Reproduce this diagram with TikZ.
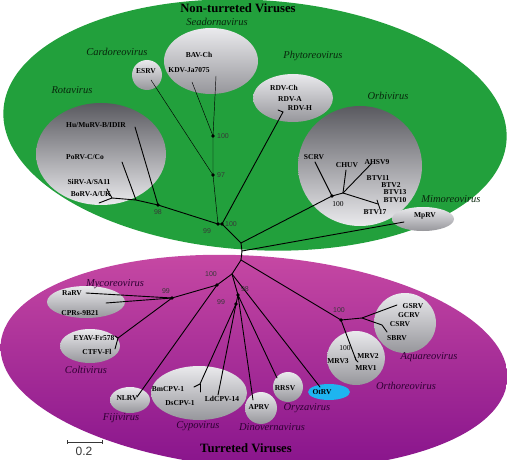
\documentclass[tikz,border=0pt]{standalone}
\usepackage{fontspec}
\setmainfont{Liberation Serif}
\newfontfamily\supfont{Liberation Sans}
\usetikzlibrary{positioning}
\definecolor{ntgreen}{RGB}{34,160,60}
\definecolor{tmagtop}{RGB}{200,74,164}
\definecolor{tmagbot}{RGB}{136,20,140}
\definecolor{cdark}{RGB}{90,90,96}
\definecolor{clight}{RGB}{234,234,237}
\definecolor{cmid}{RGB}{150,150,155}
\definecolor{otcyan}{RGB}{30,180,240}
\definecolor{ntlab}{RGB}{8,38,12}
\definecolor{tlab}{RGB}{45,0,50}
\definecolor{supgray}{RGB}{55,55,55}

\begin{document}
\begin{tikzpicture}[x=1pt,y=1pt]
\tikzstyle{every node}+=[inner sep=0pt]
\tikzstyle{isolate}=[font=\fontsize{7.5}{8}\selectfont\bfseries]
\tikzstyle{genusnt}=[font=\fontsize{10.5}{12}\selectfont\itshape, text=ntlab]
\tikzstyle{genust}=[genusnt, text=tlab]
\tikzstyle{title}=[font=\fontsize{12.7}{14}\selectfont\bfseries]
\tikzstyle{support}=[font=\supfont\fontsize{7}{8}\selectfont, text=supgray]
\tikzstyle{supserif}=[font=\fontsize{7.5}{8}\selectfont, text=black]
\tikzstyle{branch}=[line width=0.9pt, line cap=round]
\tikzstyle{thinbranch}=[line width=0.45pt]
\tikzstyle{grpdark}=[top color=cdark, bottom color=clight]
\tikzstyle{grplight}=[top color=clight, bottom color=cmid]
\useasboundingbox (0,0) rectangle (507,-460);
% the two big groups
\begin{scope}
\clip (0,0) rectangle (507,-460);
\fill [ntgreen, rotate around={-3.4:(255,-125)}] (255,-125) ellipse [x radius=252pt, y radius=125pt];
\shade [top color=tmagtop, bottom color=tmagbot, rotate around={-4:(254,-362)}] (254,-362) ellipse [x radius=254pt, y radius=106pt];
\end{scope}
\node [title] (ntitle) at (238,-8) {Non-turreted Viruses};
\node [title] (ttitle) at (246,-448) {Turreted Viruses};
% genus areas
\shade [grpdark] (101,-154) ellipse [x radius=65pt, y radius=51pt];
\shade [grplight] (211,-61) ellipse [x radius=47pt, y radius=33pt];
\shade [grplight] (147,-75) circle [radius=15pt];
\shade [grplight] (293,-98) ellipse [x radius=40pt, y radius=24pt];
\shade [grpdark] (360,-166) ellipse [x radius=62pt, y radius=60pt];
\shade [grplight] (423,-219) ellipse [x radius=31pt, y radius=12pt];
\shade [grplight] (86,-302) ellipse [x radius=39pt, y radius=16pt];
\shade [grplight] (90,-346) ellipse [x radius=30pt, y radius=17pt];
\shade [grplight] (130,-400) ellipse [x radius=20pt, y radius=13pt];
\shade [grplight] (199,-393) ellipse [x radius=48pt, y radius=27pt];
\shade [grplight] (261,-408) circle [radius=16pt];
\shade [grplight] (288,-387) circle [radius=15pt];
\fill [otcyan] (329,-392) ellipse [x radius=21pt, y radius=8pt];
\shade [grplight] (356,-358) ellipse [x radius=29pt, y radius=27pt];
\shade [grplight] (405,-323) ellipse [x radius=31pt, y radius=30pt];
% genus names
\node [genusnt] (seadorna) at (217,-22) {Seadornavirus};
\node [genusnt] (cardoreo) at (117,-52) {Cardoreovirus};
\node [genusnt] (phytoreo) at (313,-56) {Phytoreovirus};
\node [genusnt] (rotavir) at (72,-90) {Rotavirus};
\node [genusnt] (orbivir) at (388,-96) {Orbivirus};
\node [genusnt] (mimoreo) at (451,-199) {Mimoreovirus};
\node [genust] (mycoreo) at (115,-284) {Mycoreovirus};
\node [genust] (coltivir) at (86,-370) {Coltivirus};
\node [genust] (fijivir) at (121,-418) {Fijivirus};
\node [genust] (cypovir) at (198,-426) {Cypovirus};
\node [genust] (dinoverna) at (272,-427) {Dinovernavirus};
\node [genust] (oryzavir) at (307,-408) {Oryzavirus};
\node [genust] (orthoreo) at (406,-386) {Orthoreovirus};
\node [genust] (aquareo) at (429,-357) {Aquareovirus};
% isolates
\node [isolate] (bavch) at (199,-55) {BAV-Ch};
\node [isolate] (kdv) at (189,-70) {KDV-Ja7075};
\node [isolate] (esrv) at (146,-71) {ESRV};
\node [isolate] (humurv) at (96,-125) {Hu/MuRV-B/IDIR};
\node [isolate] (porv) at (85,-157) {PoRV-C/Co};
\node [isolate] (sirv) at (89,-182) {SiRV-A/SA11};
\node [isolate] (borv) at (91,-194) {BoRV-A/UK};
\node [isolate] (rdvch) at (284,-88) {RDV-Ch};
\node [isolate] (rdva) at (290,-99) {RDV-A};
\node [isolate] (rdvh) at (300,-108) {RDV-H};
\node [isolate] (scrv) at (314,-157) {SCRV};
\node [isolate] (chuv) at (347,-165) {CHUV};
\node [isolate] (ahsv) at (377,-162) {AHSV9};
\node [isolate] (btv11) at (378,-178) {BTV11};
\node [isolate] (btv2) at (391,-185) {BTV2};
\node [isolate] (btv13) at (395,-192) {BTV13};
\node [isolate] (btv10) at (395,-200) {BTV10};
\node [isolate] (btv17) at (375,-212) {BTV17};
\node [isolate] (mprv) at (425,-216) {MpRV};
\node [isolate] (rarv) at (72,-293) {RaRV};
\node [isolate] (cprs) at (80,-313) {CPRs-9B21};
\node [isolate] (eyav) at (94,-338) {EYAV-Fr578};
\node [isolate] (ctfv) at (97,-352) {CTFV-Fl};
\node [isolate] (nlrv) at (127,-398) {NLRV};
\node [isolate] (bmcpv) at (168,-389) {BmCPV-1};
\node [isolate] (dscpv) at (180,-403) {DsCPV-1};
\node [isolate] (ldcpv) at (222,-399) {LdCPV-14};
\node [isolate] (aprv) at (259,-407) {APRV};
\node [isolate] (rrsv) at (285,-388) {RRSV};
\node [isolate] (otrv) at (322,-392) {OtRV};
\node [isolate] (mrv3) at (338,-361) {MRV3};
\node [isolate] (mrv2) at (368,-356) {MRV2};
\node [isolate] (mrv1) at (366,-368) {MRV1};
\node [isolate] (gsrv) at (413,-306) {GSRV};
\node [isolate] (gcrv) at (409,-315) {GCRV};
\node [isolate] (csrv) at (400,-324) {CSRV};
\node [isolate] (sbrv) at (397,-338) {SBRV};
% tree: inner points
\coordinate (n99) at (218,-224);
\coordinate (n100) at (222,-224);
\coordinate (j1) at (241,-243);
\coordinate (j2) at (242,-251);
\coordinate (j3) at (241,-260);
\coordinate (rota) at (158,-205);
\coordinate (rjA) at (136,-200);
\coordinate (rjB) at (112,-198);
\coordinate (n97) at (213,-175);
\coordinate (sea) at (213,-136);
\coordinate (rdvj) at (283,-112);
\coordinate (orbi) at (332,-196);
\coordinate (oj) at (343,-193);
\coordinate (btvj) at (378,-204);
\coordinate (j4) at (232,-274);
\coordinate (t100) at (217,-285);
\coordinate (myco) at (172,-298);
\coordinate (colj) at (118,-338);
\coordinate (t98) at (238,-295);
\coordinate (t99) at (236,-304);
\coordinate (bmj) at (200,-384);
\coordinate (ao) at (341,-320);
\coordinate (aqj) at (362,-318);
\coordinate (aqk) at (382,-325);
\coordinate (orj) at (356,-360);
% tree: tips
\coordinate (huend) at (135,-127);
\coordinate (poend) at (122,-162);
\coordinate (siend) at (107,-189);
\coordinate (boend) at (99,-203);
\coordinate (esend) at (151,-80);
\coordinate (kdend) at (192,-82);
\coordinate (bavend) at (216,-76);
\coordinate (rdvend) at (278,-110);
\coordinate (scend) at (315,-162);
\coordinate (chend) at (346,-170);
\coordinate (ahend) at (372,-163);
\coordinate (btvA) at (377,-200);
\coordinate (btvB) at (380,-209);
\coordinate (mpend) at (404,-222);
\coordinate (raend) at (86,-293);
\coordinate (cpend) at (106,-303);
\coordinate (eyend) at (115,-336);
\coordinate (ctend) at (115,-349);
\coordinate (nlend) at (137,-397);
\coordinate (bmend) at (194,-387);
\coordinate (dsend) at (200,-392);
\coordinate (ldend) at (218,-395);
\coordinate (apend) at (253,-400);
\coordinate (rrend) at (277,-378);
\coordinate (otend) at (320,-387);
\coordinate (gsend) at (397,-305);
\coordinate (sbend) at (387,-332);
\coordinate (mrvA) at (355,-357);
\coordinate (mrvB) at (358,-362);
% branches
\draw [branch] (n99) -- (rota) -- (rjA) -- (rjB) -- (boend);
\draw [branch] (rjB) -- (siend);
\draw [branch] (rjA) -- (poend);
\draw [branch] (rota) -- (huend);
\draw [thinbranch] (n99) -- (n97) -- (sea) -- (kdend);
\draw [thinbranch] (sea) -- (bavend);
\draw [thinbranch] (n97) -- (esend);
\draw [branch] (n99) -- (n100) -- (rdvj) -- (rdvend);
\draw [branch] (n100) -- (j1) -- (orbi) -- (scend);
\draw [branch] (orbi) -- (oj) -- (chend);
\draw [branch] (oj) -- (ahend);
\draw [branch] (oj) -- (btvj);
\draw [branch] (btvA) -- (btvB);
\draw [branch] (j1) -- (j2) -- (mpend);
\draw [branch] (j2) -- (j3) -- (j4) -- (t100) -- (myco) -- (raend);
\draw [branch] (myco) -- (cpend);
\draw [branch] (myco) -- (colj) -- (eyend);
\draw [branch] (colj) -- (ctend);
\draw [branch] (t100) -- (nlend);
\draw [branch] (j4) -- (t98) -- (t99) -- (bmj) -- (bmend);
\draw [branch] (bmj) -- (dsend);
\draw [branch] (t99) -- (ldend);
\draw [branch] (t98) -- (apend);
\draw [branch] (t98) -- (rrend);
\draw [branch] (j4) -- (otend);
\draw [branch] (j3) -- (ao) -- (aqj) -- (gsend);
\draw [branch] (aqj) -- (aqk) -- (sbend);
\draw [branch] (ao) -- (orj);
\draw [branch] (mrvA) -- (orj) -- (mrvB);
% support values
\foreach \p in {rota,n97,sea,n99,n100,orbi,t100,myco,t98,t99,ao}
  \fill (\p) circle (1.8pt);
\node [support, right=4pt of sea] (bs1) {100};
\node [support, right=4pt of n97] (bs2) {97};
\node [support, below=4pt of rota] (bs3) {98};
\node [support] (bs4) at (207,-231) {99};
\node [support, right=3pt of n100] (bs5) {100};
\node [supserif] (bs6) at (338,-204) {100};
\node [support] (bs7) at (211,-274) {100};
\node [support] (bs8) at (166,-291) {99};
\node [support] (bs9) at (245,-289) {98};
\node [support] (bs10) at (221,-302) {99};
\node [support] (bs11) at (339,-310) {100};
\node [supserif] (bs12) at (345,-348) {100};
% scale bar
\coordinate (sbl) at (67,-442);
\coordinate (sbr) at (102,-442);
\draw [line width=0.7pt, supgray] (sbl) -- (sbr);
\draw [line width=0.7pt, supgray] ([yshift=2pt]sbl) -- ([yshift=-2pt]sbl);
\draw [line width=0.7pt, supgray] ([yshift=2pt]sbr) -- ([yshift=-2pt]sbr);
\node [support, font=\supfont\fontsize{12}{13}\selectfont, below=5pt of sbl, xshift=17pt] (sblab) {0.2};
\end{tikzpicture}
\end{document}
